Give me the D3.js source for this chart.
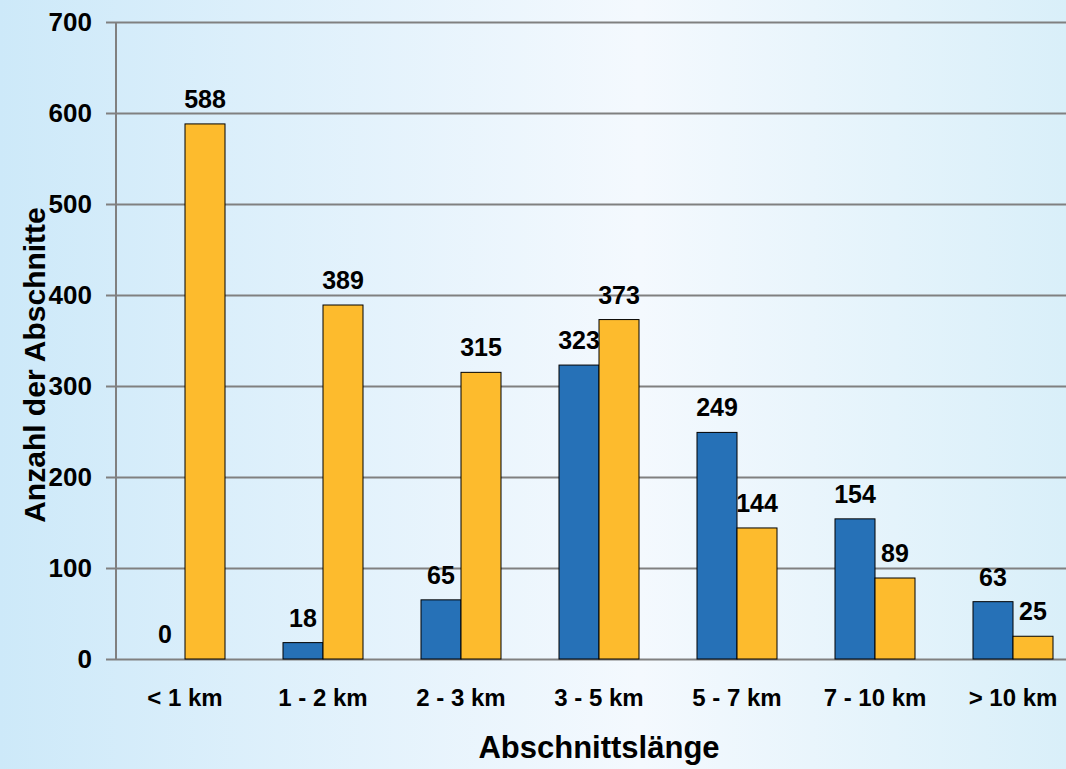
<!DOCTYPE html>
<html>
<head>
<meta charset="utf-8">
<script src="https://cdn.jsdelivr.net/npm/d3@7.9.0/dist/d3.min.js"></script>
<style>
  body { margin: 0; }
  svg { display: block; font-family: 'Liberation Sans', Arial, sans-serif; }
</style>
</head>
<body>
<svg id="chart" width="1066" height="769"></svg>
<script>
const categories = ['< 1 km', '1 - 2 km', '2 - 3 km', '3 - 5 km', '5 - 7 km', '7 - 10 km', '> 10 km'];
const seriesA = [0, 18, 65, 323, 249, 154, 63];
const seriesB = [588, 389, 315, 373, 144, 89, 25];
const yTicks = [0, 100, 200, 300, 400, 500, 600, 700];

const width = 1066;
const height = 769;
const margin = { top: 22, bottom: 110, left: 116 };

const svg = d3.select('#chart');

// background
const defs = svg.append('defs');
const grad = defs.append('linearGradient').attr('id', 'bg').attr('x1', '0').attr('x2', '1');
grad.append('stop').attr('offset', '0').attr('stop-color', '#cde9f9');
grad.append('stop').attr('offset', '0.6').attr('stop-color', '#f4f9fe');
grad.append('stop').attr('offset', '1').attr('stop-color', '#d9eff9');
svg.append('rect').attr('width', width).attr('height', height).attr('fill', 'url(#bg)');

const x = d3.scaleBand().domain(categories).range([margin.left, margin.left + 7 * 138]);
const y = d3.scaleLinear().domain([0, 700]).range([height - margin.bottom, margin.top]);
const barW = 40;

// grid + y axis
const yAxis = svg.append('g')
  .attr('transform', `translate(${margin.left},0)`)
  .call(d3.axisLeft(y).tickValues(yTicks).tickSize(10).tickPadding(14))
  .call(g => g.select('.domain').remove());
yAxis.selectAll('.tick line').attr('x1', -10).attr('x2', width).attr('stroke', '#808080').attr('stroke-width', 2);
yAxis.selectAll('.tick text').attr('font-size', 26).attr('font-weight', 'bold').attr('fill', '#000');

svg.append('line')
  .attr('x1', margin.left).attr('x2', margin.left)
  .attr('y1', y(700)).attr('y2', y(0))
  .attr('stroke', '#808080').attr('stroke-width', 2);

// bars
const groups = svg.append('g');
categories.forEach((c, i) => {
  const cx = x(c) + x.bandwidth() / 2;
  groups.append('rect')
    .attr('x', cx - barW).attr('y', y(seriesA[i]))
    .attr('width', barW).attr('height', y(0) - y(seriesA[i]))
    .attr('fill', '#2671b7').attr('stroke', '#000').attr('stroke-width', 1);
  groups.append('rect')
    .attr('x', cx).attr('y', y(seriesB[i]))
    .attr('width', barW).attr('height', y(0) - y(seriesB[i]))
    .attr('fill', '#fdbb2d').attr('stroke', '#000').attr('stroke-width', 1);
  groups.append('text')
    .attr('x', cx - barW / 2).attr('y', y(seriesA[i]) - 16)
    .attr('text-anchor', 'middle').attr('font-size', 25).attr('font-weight', 'bold')
    .text(seriesA[i]);
  groups.append('text')
    .attr('x', cx + barW / 2).attr('y', y(seriesB[i]) - 16)
    .attr('text-anchor', 'middle').attr('font-size', 25).attr('font-weight', 'bold')
    .text(seriesB[i]);
  groups.append('text')
    .attr('x', cx).attr('y', 706)
    .attr('text-anchor', 'middle').attr('font-size', 24).attr('font-weight', 'bold')
    .text(c);
});

// axis titles
svg.append('text')
  .attr('transform', `translate(45,365) rotate(-90)`)
  .attr('text-anchor', 'middle').attr('font-size', 30).attr('font-weight', 'bold')
  .text('Anzahl der Abschnitte');
svg.append('text')
  .attr('x', 599).attr('y', 758)
  .attr('text-anchor', 'middle').attr('font-size', 31).attr('font-weight', 'bold')
  .text('Abschnittslänge');
</script>
</body>
</html>
